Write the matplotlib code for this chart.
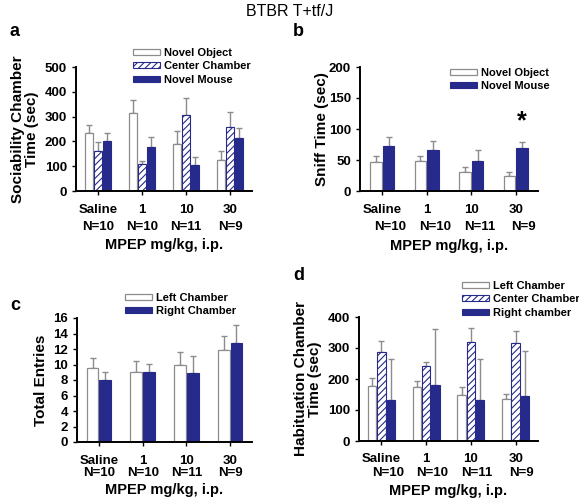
import matplotlib
matplotlib.use("Agg")
import matplotlib.pyplot as plt
import numpy as np

plt.rcParams["font.family"] = ["Liberation Sans", "DejaVu Sans"]
plt.rcParams["font.weight"] = "bold"
plt.rcParams["hatch.linewidth"] = 0.8

NAVY = "#262a8a"
GRAY = "#8c8c8c"

doses = ["Saline", "1", "10", "30"]
group_n = ["N=10", "N=10", "N=11", "N=9"]

# a: sociability chamber time (sec)
soc_object = [232, 315, 188, 125]
soc_object_err = [33, 52, 55, 35]
soc_center = [160, 107, 305, 258]
soc_center_err = [37, 13, 70, 60]
soc_mouse = [203, 177, 106, 212]
soc_mouse_err = [32, 42, 33, 42]

# b: sniff time (sec)
sniff_object = [46, 48, 31, 24]
sniff_object_err = [11, 9, 8, 6]
sniff_mouse = [73, 66, 48, 69]
sniff_mouse_err = [14, 15, 18, 10]

# c: total entries
entries_left = [9.5, 9.0, 9.9, 11.9]
entries_left_err = [1.3, 1.5, 1.7, 1.8]
entries_right = [8.0, 9.0, 8.9, 12.8]
entries_right_err = [1.0, 1.1, 2.2, 2.3]

# d: habituation chamber time (sec)
hab_left = [177, 175, 147, 135]
hab_left_err = [25, 20, 27, 17]
hab_center = [287, 241, 318, 316]
hab_center_err = [35, 15, 45, 40]
hab_right = [132, 180, 132, 145]
hab_right_err = [133, 180, 132, 145]

W, H = 579, 503
fig = plt.figure(figsize=(W / 100, H / 100), dpi=100)


def px_axes(left, top, right, bottom):
    return fig.add_axes([left / W, 1 - bottom / H, (right - left) / W, (bottom - top) / H])


STYLES = {
    "open": dict(color="white", edgecolor=GRAY, linewidth=0.9),
    "hatch": dict(color="white", edgecolor=NAVY, hatch="/////", linewidth=0.8),
    "solid": dict(color=NAVY, edgecolor=NAVY, linewidth=0.8),
}


def draw_bars(ax, series, width, offsets):
    x = np.arange(len(doses))
    handles = []
    for (vals, errs, style, label), off in zip(series, offsets):
        b = ax.bar(x + off, vals, width, label=label, zorder=2, **STYLES[style])
        ax.errorbar(x + off, vals, yerr=[np.zeros(len(errs)), errs], fmt="none",
                    ecolor=GRAY, elinewidth=1.0, capsize=2.5, capthick=1.0, zorder=1)
        handles.append(b)
    return handles


def style_axes(ax, ylim, yticks, ylabel, n_shift, label_gap, xlabel_pad, ylabel_pad=4):
    ax.set_xlim(-0.5, 3.5)
    ax.set_ylim(*ylim)
    ax.set_yticks(yticks)
    for s in ("top", "right"):
        ax.spines[s].set_visible(False)
    for s in ("left", "bottom"):
        ax.spines[s].set_linewidth(1.4)
    ax.tick_params(axis="both", direction="out", length=3, width=1, labelsize=9.5)
    ax.set_xticks(np.arange(len(doses)))
    ax.set_xticklabels(doses)
    ax.tick_params(axis="x", pad=6)
    for i, n in enumerate(group_n):
        ax.text(i + n_shift, -label_gap, n, transform=ax.get_xaxis_transform(),
                ha="center", va="top", fontsize=9.5, fontweight="bold")
    ax.set_xlabel("MPEP mg/kg, i.p.", fontsize=10.5, fontweight="bold", labelpad=xlabel_pad)
    ax.set_ylabel(ylabel, fontsize=11, fontweight="bold", linespacing=1.05, labelpad=ylabel_pad)


def add_legend(ax, handles, labels, x_px, y_px):
    ax.legend(handles, labels, loc="upper left", bbox_to_anchor=(x_px / W, 1 - y_px / H),
              bbox_transform=fig.transFigure, frameon=False, borderpad=0, borderaxespad=0,
              handlelength=2.4, handleheight=0.45, handletextpad=0.35,
              labelspacing=0.3, prop={"size": 8, "weight": "bold"})


# panel a
ax_a = px_axes(76, 67, 252, 191)
h = draw_bars(ax_a, [(soc_object, soc_object_err, "open", "Novel Object"),
                     (soc_center, soc_center_err, "hatch", "Center Chamber"),
                     (soc_mouse, soc_mouse_err, "solid", "Novel Mouse")],
              0.19, [-0.205, 0, 0.205])
style_axes(ax_a, (0, 500), range(0, 501, 100), "Sociability Chamber\nTime (sec)", 0, 0.24, 16)
add_legend(ax_a, h, ["Novel Object", "Center Chamber", "Novel Mouse"], 133, 48)

# panel b
ax_b = px_axes(360, 67, 538, 191)
h = draw_bars(ax_b, [(sniff_object, sniff_object_err, "open", "Novel Object"),
                     (sniff_mouse, sniff_mouse_err, "solid", "Novel Mouse")],
              0.26, [-0.145, 0.145])
style_axes(ax_b, (0, 200), range(0, 201, 50), "Sniff Time (sec)", 0.18, 0.24, 17, ylabel_pad=0)
add_legend(ax_b, h, ["Novel Object", "Novel Mouse"], 450, 68)
ax_b.text(3.145, 112, "*", ha="center", va="center", fontsize=18, fontweight="bold")

# panel c
ax_c = px_axes(77, 318, 252, 442)
h = draw_bars(ax_c, [(entries_left, entries_left_err, "open", "Left Chamber"),
                     (entries_right, entries_right_err, "solid", "Right Chamber")],
              0.27, [-0.145, 0.145])
style_axes(ax_c, (0, 16), range(0, 17, 2), "Total Entries", 0, 0.205, 12)
add_legend(ax_c, h, ["Left Chamber", "Right Chamber"], 125, 293)

# panel d
ax_d = px_axes(359, 317, 538, 441)
h = draw_bars(ax_d, [(hab_left, hab_left_err, "open", "Left Chamber"),
                     (hab_center, hab_center_err, "hatch", "Center Chamber"),
                     (hab_right, hab_right_err, "solid", "Right chamber")],
              0.19, [-0.205, 0, 0.205])
style_axes(ax_d, (0, 400), range(0, 401, 100), "Habituation Chamber\nTime (sec)", 0.14, 0.21, 13)
add_legend(ax_d, h, ["Left Chamber", "Center Chamber", "Right chamber"], 462, 281)

fig.text(0.5, 1 - 12 / H, "BTBR T+tf/J", ha="center", va="center", fontsize=11.5, fontweight="normal")
for letter, xp, yp in [("a", 10, 32), ("b", 293, 32), ("c", 10, 305), ("d", 293, 275)]:
    fig.text(xp / W, 1 - yp / H, letter, ha="left", va="center", fontsize=13, fontweight="bold")

fig.savefig("out.png", dpi=100)
